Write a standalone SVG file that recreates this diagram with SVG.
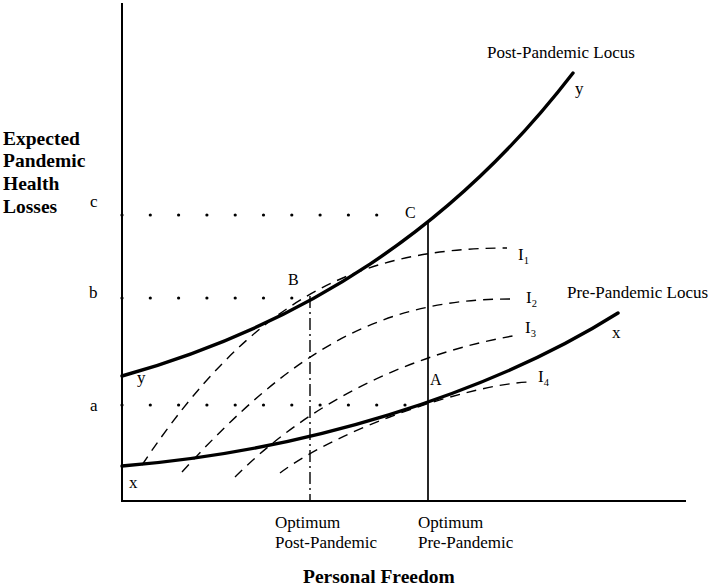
<svg xmlns="http://www.w3.org/2000/svg" width="709" height="586" viewBox="0 0 709 586">
<style>
.t{font-family:"Liberation Serif","Times New Roman",serif;fill:#000}
.tb{font-family:"Liberation Serif","Times New Roman",serif;font-weight:bold;font-size:19.5px;fill:#000}
.lab{font-size:17px}
.pt{font-size:16px}
.sub{font-size:10.5px}
.axis{stroke:#000;stroke-width:2;fill:none}
.locus{stroke:#000;stroke-width:3.4;fill:none;stroke-linecap:round}
.ind{stroke:#000;stroke-width:1.4;fill:none;stroke-dasharray:10 7}
.dd{stroke:#000;stroke-width:1.4;fill:none;stroke-dasharray:12 4 2 4}
.vl{stroke:#000;stroke-width:1.7;fill:none}
.dot{fill:#000}
</style>
<rect width="709" height="586" fill="#fff"/>

<g id="axes">
<line class="axis" x1="122" y1="3" x2="122" y2="501"/>
<line class="axis" x1="121" y1="501" x2="686" y2="501"/>
</g>

<g id="y-axis-title" class="tb">
<text x="3" y="145">Expected</text>
<text x="3" y="167">Pandemic</text>
<text x="3" y="190">Health</text>
<text x="3" y="213">Losses</text>
</g>
<g id="x-axis-title">
<text class="tb" x="303" y="583">Personal Freedom</text>
</g>

<g id="levels" class="t lab">
<text x="90" y="207">c</text>
<text x="89" y="298">b</text>
<text x="90" y="411">a</text>
</g>

<g id="dotted-guides" class="dot">
<g id="dots-c">
<circle cx="122" cy="215" r="1.6"/><circle cx="150.3" cy="215" r="1.6"/><circle cx="178.6" cy="215" r="1.6"/><circle cx="206.9" cy="215" r="1.6"/><circle cx="235.2" cy="215" r="1.6"/><circle cx="263.5" cy="215" r="1.6"/><circle cx="291.8" cy="215" r="1.6"/><circle cx="320.1" cy="215" r="1.6"/><circle cx="348.4" cy="215" r="1.6"/><circle cx="376.7" cy="215" r="1.6"/>
</g>
<g id="dots-b">
<circle cx="122" cy="298" r="1.6"/><circle cx="150.3" cy="298" r="1.6"/><circle cx="178.6" cy="298" r="1.6"/><circle cx="206.9" cy="298" r="1.6"/><circle cx="235.2" cy="298" r="1.6"/><circle cx="263.5" cy="298" r="1.6"/><circle cx="291.8" cy="298" r="1.6"/>
</g>
<g id="dots-a">
<circle cx="122" cy="405" r="1.6"/><circle cx="150.3" cy="405" r="1.6"/><circle cx="178.6" cy="405" r="1.6"/><circle cx="206.9" cy="405" r="1.6"/><circle cx="235.2" cy="405" r="1.6"/><circle cx="263.5" cy="405" r="1.6"/><circle cx="291.8" cy="405" r="1.6"/><circle cx="320.1" cy="405" r="1.6"/><circle cx="348.4" cy="405" r="1.6"/><circle cx="376.7" cy="405" r="1.6"/><circle cx="405" cy="405" r="1.6"/>
</g>
</g>

<g id="connectors">
<path id="I1" class="ind" d="M142,465 C252,300 357,248 507,248"/>
<path id="I2" class="ind" d="M182,472 C292,351 380,299 510,299"/>
<path id="I3" class="ind" d="M235,477 C315,397 418,352 518,335"/>
<path id="I4" class="ind" d="M280,473 C340,428 468,385 528,382"/>
<line id="opt-post" class="dd" x1="310" y1="296" x2="310" y2="501"/>
<line id="opt-pre" class="vl" x1="428" y1="222" x2="428" y2="501"/>
</g>

<g id="post-pandemic-locus">
<path class="locus" d="M122,376 C302,325.6 453,229 573,73"/>
<text class="t lab" x="487" y="58">Post-Pandemic Locus</text>
<text class="t lab" x="137" y="383">y</text>
<text class="t lab" x="575" y="94">y</text>
</g>

<g id="pre-pandemic-locus">
<path class="locus" d="M122,466 C302,451.6 488,394.9 618,313"/>
<text class="t lab" x="567" y="298">Pre-Pandemic Locus</text>
<text class="t lab" x="129" y="488">x</text>
<text class="t lab" x="612" y="338">x</text>
</g>

<g id="point-labels" class="t pt">
<text id="C" x="405" y="218">C</text>
<text id="B" x="288" y="285">B</text>
<text id="A" x="430" y="385">A</text>
</g>

<g id="curve-labels" class="t lab">
<text x="518" y="260">I<tspan class="sub" dy="4">1</tspan></text>
<text x="526" y="303">I<tspan class="sub" dy="4">2</tspan></text>
<text x="525" y="333">I<tspan class="sub" dy="4">3</tspan></text>
<text x="538" y="382">I<tspan class="sub" dy="4">4</tspan></text>
</g>

<g id="optimum-labels" class="t lab">
<text x="275" y="528">Optimum</text>
<text x="275" y="548">Post-Pandemic</text>
<text x="418" y="528">Optimum</text>
<text x="418" y="548">Pre-Pandemic</text>
</g>
</svg>
